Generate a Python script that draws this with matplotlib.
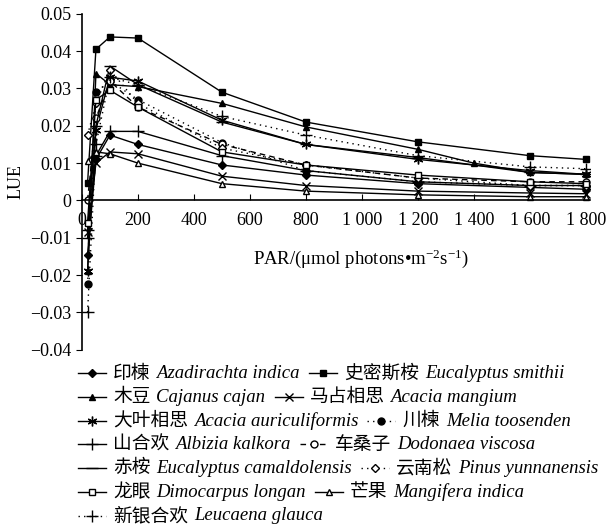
import matplotlib
matplotlib.use("Agg")
import matplotlib.pyplot as plt
from matplotlib.ticker import FuncFormatter

plt.rcParams['font.family'] = ['Liberation Serif', 'Noto Sans CJK SC']
plt.rcParams['mathtext.fontset'] = 'custom'
plt.rcParams['mathtext.rm'] = 'Liberation Serif'
plt.rcParams['mathtext.it'] = 'Liberation Serif:italic'

# PAR 数据点
par = [20, 50, 100, 200, 500, 800, 1200, 1600, 1800]
par_mg = [20, 50, 100, 200, 500, 800, 1200, 1400, 1600, 1800]

# LUE 估计值
yinlian = [-0.0145, 0.011, 0.0175, 0.015, 0.0095, 0.0068, 0.0045, 0.0035, 0.003]
shimisi = [0.0046, 0.0405, 0.0438, 0.0435, 0.029, 0.021, 0.0157, 0.012, 0.011]
mudou = [-0.019, 0.034, 0.031, 0.0305, 0.026, 0.0197, 0.0137, 0.010, 0.0075, 0.007]
mazhan = [-0.0085, 0.010, 0.013, 0.0125, 0.0065, 0.004, 0.0025, 0.002, 0.0018]
dayei = [-0.019, 0.019, 0.033, 0.032, 0.0215, 0.015, 0.011, 0.008, 0.007]
chuanlian = [-0.0225, 0.029, 0.032, 0.027, 0.0155, 0.008, 0.005, 0.004, 0.004]
shanhe = [-0.010, 0.012, 0.0185, 0.0185, 0.012, 0.008, 0.005, 0.004, 0.004]
chesang = [0.0, 0.022, 0.032, 0.025, 0.015, 0.0095, 0.006, 0.005, 0.005]
chian = [-0.008, 0.020, 0.036, 0.031, 0.021, 0.015, 0.0115, 0.0075, 0.007]
yunnansong = [0.0175, 0.026, 0.035, 0.026, 0.014, 0.0095, 0.006, 0.004, 0.004]
longyan = [-0.006, 0.027, 0.0295, 0.025, 0.013, 0.0095, 0.0068, 0.005, 0.0045]
mangguo = [0.0105, 0.013, 0.0125, 0.010, 0.0045, 0.0025, 0.0015, 0.001, 0.001]
xinyin = [-0.030, 0.015, 0.033, 0.031, 0.0225, 0.0175, 0.012, 0.009, 0.0085]

y_ticks = [-0.04, -0.03, -0.02, -0.01, 0, 0.01, 0.02, 0.03, 0.04, 0.05]
x_ticks = [0, 200, 400, 600, 800, 1000, 1200, 1400, 1600, 1800]

fig = plt.figure(figsize=(6.07, 5.30), dpi=100)
ax = fig.add_axes([0.135, 0.34, 0.837, 0.634])

ms = 5
lw = 1.0
dot = (0, (1, 3))

series = {
    '印楝': ('Azadirachta indica', par, yinlian, dict(marker='D', ms=4, mfc='k', ls='-')),
    '史密斯桉': ('Eucalyptus smithii', par, shimisi, dict(marker='s', mfc='k', ls='-')),
    '木豆': ('Cajanus cajan', par_mg, mudou, dict(marker='^', mfc='k', ls='-')),
    '马占相思': ('Acacia mangium', par, mazhan, dict(marker='x', ms=6, ls='-')),
    '大叶相思': ('Acacia auriculiformis', par, dayei, dict(marker=(6, 2, 0), ms=7, ls='-')),
    '川楝': ('Melia toosenden', par, chuanlian, dict(marker='o', mfc='k', ls=dot)),
    '山合欢': ('Albizia kalkora', par, shanhe, dict(marker='+', ms=8, ls='-')),
    '车桑子': ('Dodonaea viscosa', par, chesang, dict(marker='o', mfc='white', ls=(0, (4, 3)))),
    '赤桉': ('Eucalyptus camaldolensis', par, chian, dict(marker='_', ms=9, ls='-')),
    '云南松': ('Pinus yunnanensis', par, yunnansong, dict(marker='D', ms=4.5, mfc='white', ls=dot)),
    '龙眼': ('Dimocarpus longan', par, longyan, dict(marker='s', mfc='white', ls='-')),
    '芒果': ('Mangifera indica', par, mangguo, dict(marker='^', mfc='white', ls='-')),
    '新银合欢': ('Leucaena glauca', par, xinyin, dict(marker='+', ms=8, ls=dot)),
}

for cn, (latin, xs, ys, st) in series.items():
    st.setdefault('ms', ms)
    ax.plot(xs, ys, color='k', mec='k', lw=lw, mew=1.0, **st)

ax.set_xlim(0, 1815)
ax.set_ylim(-0.04, 0.05)
ax.spines['top'].set_visible(False)
ax.spines['right'].set_visible(False)
ax.spines['bottom'].set_position(('data', 0))
ax.spines['left'].set_linewidth(1.2)
ax.spines['bottom'].set_linewidth(1.2)

ax.set_yticks(y_ticks)
ax.set_xticks(x_ticks)
ax.yaxis.set_major_formatter(FuncFormatter(
    lambda v, p: '0' if abs(v) < 1e-9 else ('%.2f' % v).replace('-', '\u2212')))
ax.xaxis.set_major_formatter(FuncFormatter(
    lambda v, p: '{:,}'.format(int(v)).replace(',', ' ')))
ax.tick_params(axis='x', direction='in', length=4, labelsize=13, pad=8)
ax.tick_params(axis='y', direction='out', length=4, labelsize=13)

ax.set_ylabel('LUE', fontsize=13, labelpad=4)
ax.text(0.55, 0.305, 'PAR/(μmol photons•m$^{-2}$s$^{-1}$)', transform=ax.transAxes,
        ha='center', va='top', fontsize=13.5)

# 图例：逐行排布（中文正体 + 拉丁学名斜体）
rows = [['印楝', '史密斯桉'], ['木豆', '马占相思'], ['大叶相思', '川楝'],
        ['山合欢', '车桑子'], ['赤桉', '云南松'], ['龙眼', '芒果'], ['新银合欢']]

lax = fig.add_axes([0, 0, 1, 1])
lax.set_xlim(0, 607)
lax.set_ylim(530, 0)
lax.axis('off')
renderer = fig.canvas.get_renderer()

y = 373
for row in rows:
    x = 78
    for cn in row:
        latin, xs, ys, st = series[cn]
        st = dict(st)
        lax.plot([x, x + 14, x + 28], [y, y, y], color='k', mec='k', lw=lw, mew=1.0,
                 markevery=[1], **st)
        x += 35
        t = lax.text(x, y, cn, family=['Noto Sans CJK SC'], fontsize=13.5, va='center')
        x += t.get_window_extent(renderer).width + 6
        t = lax.text(x, y + 0.5, latin, family='Liberation Serif', style='italic',
                     fontsize=13.5, va='center')
        x += t.get_window_extent(renderer).width + 9
    y += 23.75

fig.savefig('out.png', dpi=100)
